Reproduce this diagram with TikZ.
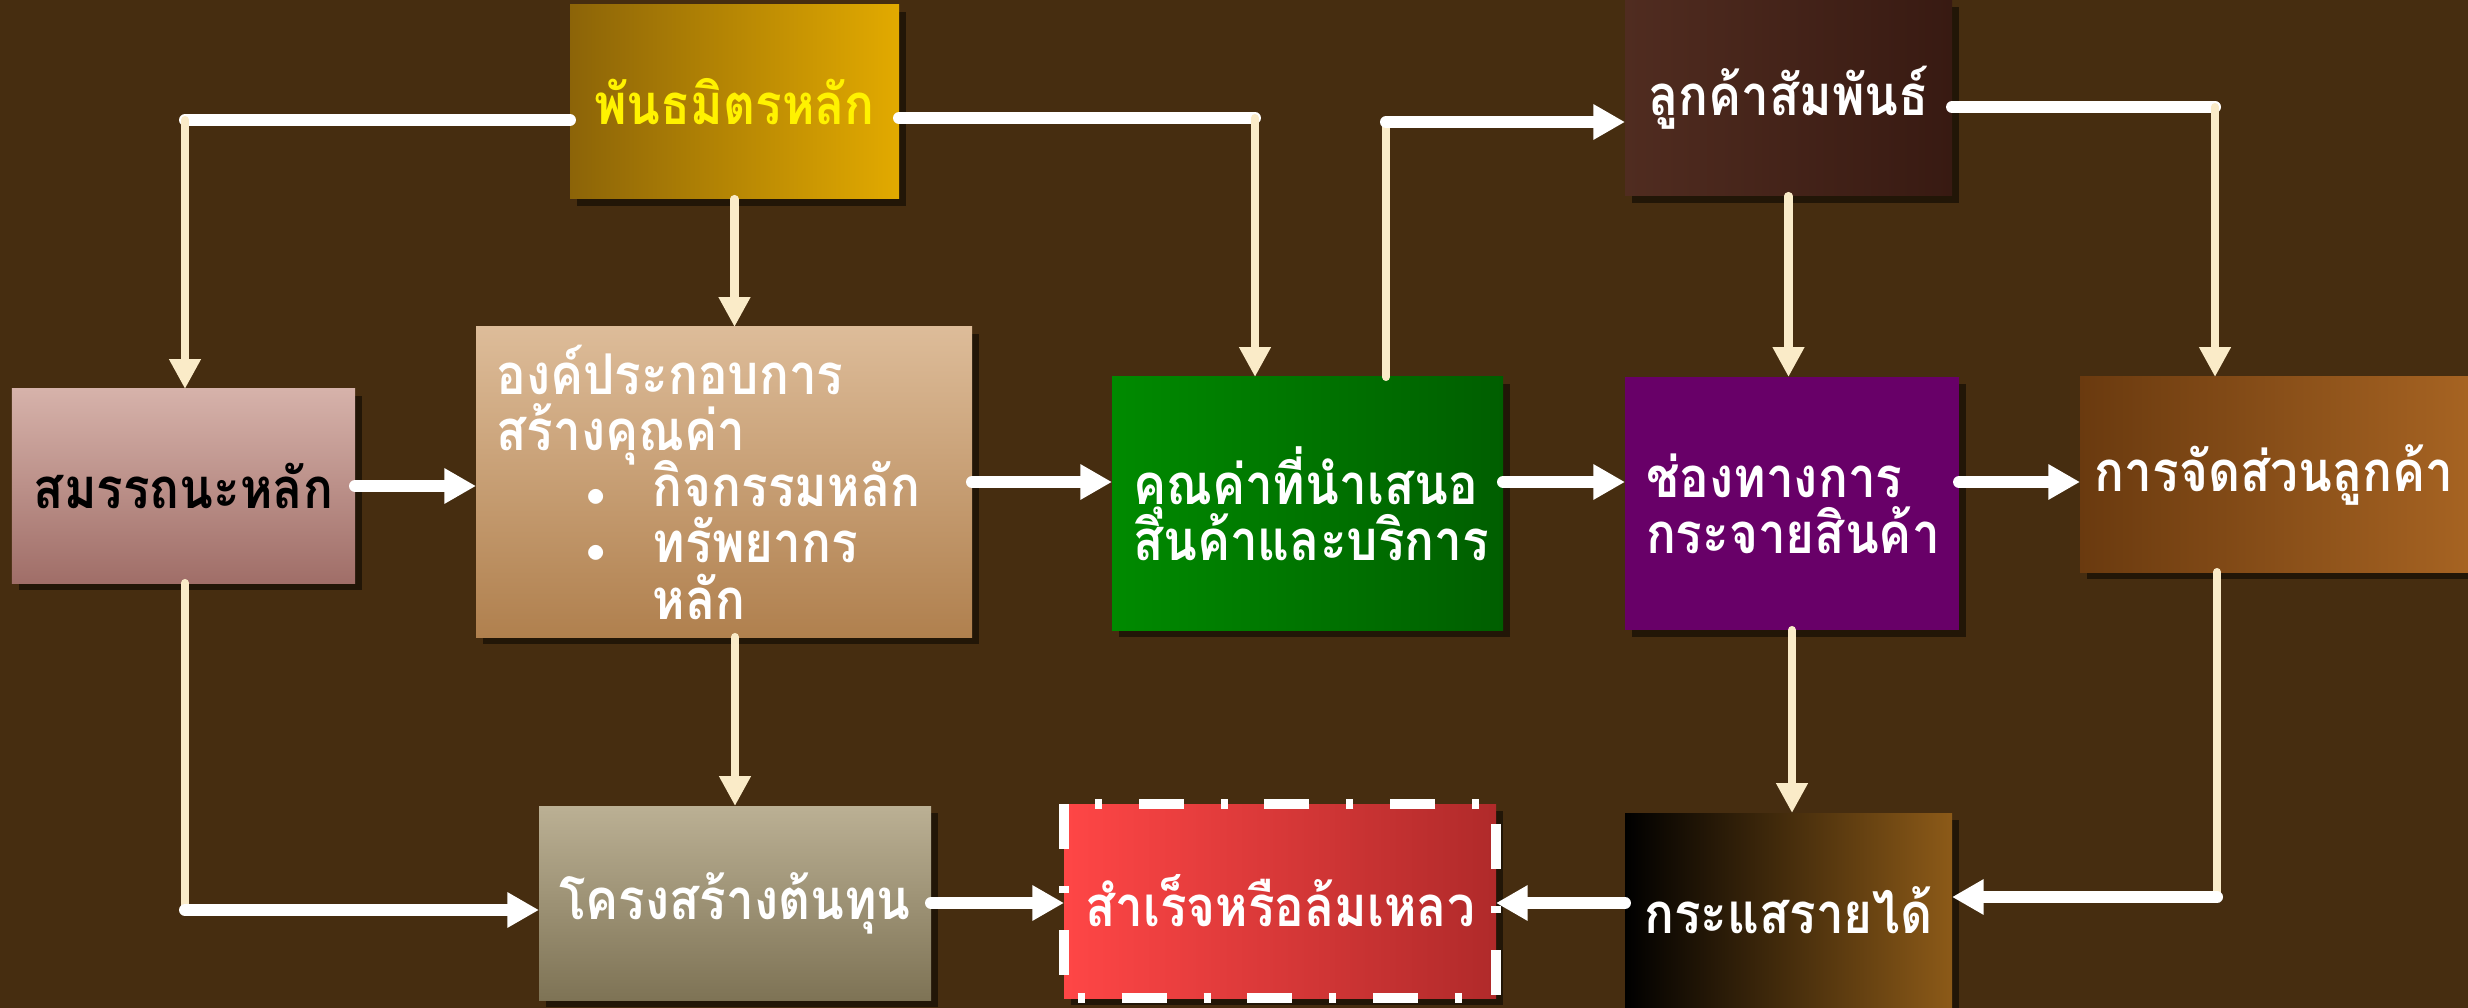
\documentclass[tikz,border=0pt]{standalone}
\usepackage{fontspec}
\setmainfont[Script=Thai,FakeStretch=0.88]{Loma}
\usetikzlibrary{arrows.meta,shadows}

\definecolor{bgbrown}{RGB}{70,45,16}
\definecolor{cream}{RGB}{250,235,200}
\newcommand\boxfont{\fontsize{16}{16}\selectfont\bfseries\setlength{\lineskiplimit}{-20pt}}
\newcommand\itembul{\hspace*{1.6em}\makebox[1.18em][l]{$\scriptstyle\bullet$}}

\begin{document}
\begin{tikzpicture}[
    box/.style={anchor=north west, inner sep=0pt, outer sep=0pt, align=center,
                font=\boxfont, text=white,
                drop shadow={fill=black, opacity=0.5, shadow xshift=2pt, shadow yshift=-2pt}},
    flow/.style={line width=3.4pt, white, line cap=round,
                 -{Triangle[length=9pt,width=9.5pt]}},
    feed/.style={line width=2.3pt, cream, line cap=round,
                 -{Triangle[length=8.5pt,width=8.5pt]}}
  ]
    \useasboundingbox (0,0) rectangle (24.68,-10.08);
    \fill[bgbrown] (0,0) rectangle (24.68,-10.08);

    %% boxes
    \node[box, minimum width=3.29cm, minimum height=1.94cm, text=yellow,
          left color={rgb,255:red,140;green,100;blue,8}, right color={rgb,255:red,226;green,170;blue,0}]
          (par) at (5.70,-0.05) {พันธมิตรหลัก};
    \node[box, minimum width=3.43cm, minimum height=1.94cm, text=black,
          top color={rgb,255:red,214;green,178;blue,170}, bottom color={rgb,255:red,160;green,110;blue,104}]
          (comp) at (0.12,-3.89) {สมรรถนะหลัก};
    \node[box, minimum width=4.96cm, minimum height=3.10cm, text width=4.55cm, align=left,
          top color={rgb,255:red,221;green,188;blue,153}, bottom color={rgb,255:red,176;green,128;blue,78}]
          (vcr) at (4.76,-3.27) {องค์ประกอบการ\\สร้างคุณค่า\\
          \itembul กิจกรรมหลัก\\
          \itembul ทรัพยากร\\
          \hspace*{2.78em}หลัก};
    \node[box, minimum width=3.91cm, minimum height=2.53cm, text width=3.49cm, align=left,
          left color={rgb,255:red,0;green,138;blue,0}, right color={rgb,255:red,0;green,94;blue,0}]
          (vprop) at (11.12,-3.77) {คุณค่าที่นำเสนอ\\สินค้าและบริการ};
    \node[box, minimum width=3.27cm, minimum height=1.96cm,
          left color={rgb,255:red,80;green,44;blue,32}, right color={rgb,255:red,56;green,26;blue,18}]
          (crel) at (16.25,0) {ลูกค้าสัมพันธ์};
    \node[box, minimum width=3.34cm, minimum height=2.53cm, text width=2.92cm, align=left,
          fill={rgb,255:red,104;green,0;blue,104}]
          (chan) at (16.25,-3.77) {ช่องทางการ\\กระจายสินค้า};
    \node[box, minimum width=3.88cm, minimum height=1.95cm,
          left color={rgb,255:red,106;green,58;blue,15}, right color={rgb,255:red,166;green,99;blue,34}]
          (seg) at (20.80,-3.77) {การจัดส่วนลูกค้า};
    \node[box, minimum width=3.92cm, minimum height=1.94cm,
          top color={rgb,255:red,187;green,176;blue,148}, bottom color={rgb,255:red,126;green,115;blue,85}]
          (cost) at (5.39,-8.06) {โครงสร้างต้นทุน};
    \node[box, minimum width=4.32cm, minimum height=1.94cm,
          left color={rgb,255:red,255;green,70;blue,70}, right color={rgb,255:red,176;green,42;blue,42}]
          (res) at (10.64,-8.04) {สำเร็จหรือล้มเหลว};
    \draw[white, line width=2.8pt, dash pattern=on 12.8pt off 10.5pt on 2pt off 10.5pt]
          (res.north west) rectangle (res.south east);
    \node[box, minimum width=3.27cm, minimum height=1.95cm,
          left color=black, middle color=black, right color={rgb,255:red,140;green,90;blue,24}]
          (rev) at (16.25,-8.13) {กระแสรายได้};

    %% corners
    \coordinate (k1) at (1.85,-1.20);
    \coordinate (k2) at (12.55,-1.18);
    \coordinate (k3) at (13.86,-1.22);
    \coordinate (k4) at (22.15,-1.07);
    \coordinate (k5) at (1.85,-9.10);
    \coordinate (k6) at (22.17,-8.97);

    %% connectors
    \draw[flow, -] (k1 -| par.west) -- (k1);
    \draw[feed] (k1) -- (k1 |- comp.north);
    \draw[feed] (par.south) -- (par.south |- vcr.north);
    \draw[flow, -] (k2 -| par.east) -- (k2);
    \draw[feed] (k2) -- (k2 |- vprop.north);
    \draw[feed, -] (k3 |- vprop.north) -- (k3);
    \draw[flow] (k3) -- (k3 -| crel.west);
    \draw[flow, -] (k4 -| crel.east) -- (k4);
    \draw[feed] (k4) -- (k4 |- seg.north);
    \draw[feed] (crel.south) -- (crel.south |- chan.north);

    \draw[flow] (comp.east) -- (comp.east -| vcr.west);
    \draw[flow] (vcr.east) -- (vcr.east -| vprop.west);
    \draw[flow] (vcr.east -| vprop.east) -- (vcr.east -| chan.west);
    \draw[flow] (vcr.east -| chan.east) -- (vcr.east -| seg.west);

    \draw[feed, -] (k5 |- comp.south) -- (k5);
    \draw[flow] (k5) -- (k5 -| cost.west);
    \draw[feed] (cost.north |- vcr.south) -- (cost.north);
    \draw[flow] (cost.east) -- (cost.east -| res.west);
    \draw[flow] (cost.east -| rev.west) -- (cost.east -| res.east);
    \draw[feed, -] (k6 |- seg.south) -- (k6);
    \draw[flow] (k6) -- (k6 -| rev.east);
    \draw[feed] (chan.south) -- (chan.south |- rev.north);
  \end{tikzpicture}
\end{document}
